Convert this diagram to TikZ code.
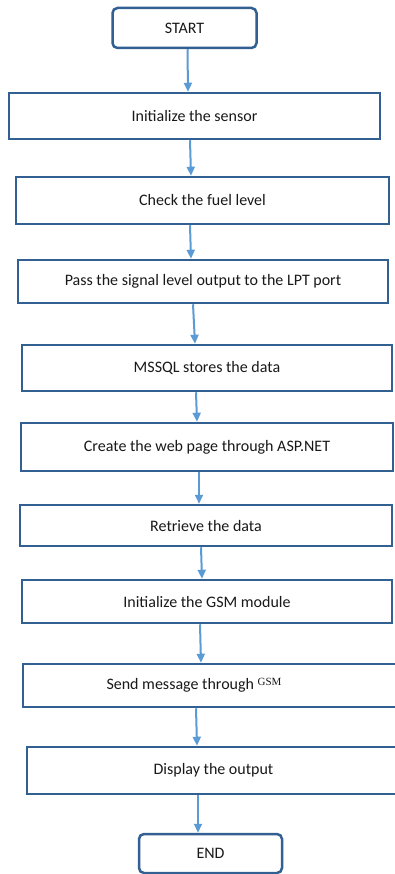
\documentclass[tikz,border=0pt]{standalone}
\usepackage{fontspec}
\setmainfont{Carlito}
\newfontfamily\gsmfont{Liberation Serif}
\usetikzlibrary{positioning, arrows.meta}
\definecolor{boxblue}{RGB}{50,96,146}
\definecolor{arrowblue}{RGB}{91,155,213}

\begin{document}
\begin{tikzpicture}[x=1pt, y=-1pt, every node/.style={font=\fontsize{16}{19}\selectfont, text=black!90}]
  \tikzset{block/.style={draw=boxblue, line width=2.5pt, fill=white, inner sep=0pt},
    terminal/.style={block, rounded corners=5pt},
    flow/.style={draw=arrowblue, line width=2pt, -{Triangle[length=9pt, width=8pt]}}}
  \useasboundingbox (0,0) rectangle (394,874);

  \node[terminal, minimum width=144pt, minimum height=40pt] (start) at (184.5,28) {START};
  \node[block, minimum width=371pt, minimum height=46pt] (init) at (194.5,116) {Initialize the sensor};
  \node[block, minimum width=373pt, minimum height=47pt] (check) at (202.5,200.5) {Check the fuel level};
  \node[block, minimum width=370pt, minimum height=43pt] (pass) at (203,281.5) {Pass the signal level output to the LPT port};
  \node[block, minimum width=370pt, minimum height=46pt] (store) at (207,368) {MSSQL stores the data};
  \node[block, minimum width=372pt, minimum height=48pt] (web) at (207,447) {Create the web page through ASP.NET};
  \node[block, minimum width=372pt, minimum height=41pt] (fetch) at (206,525.5) {Retrieve the data};
  \node[block, minimum width=370pt, minimum height=43pt] (gsm) at (207,601.5) {Initialize the GSM module};
  \node[block, minimum width=377pt, minimum height=43pt] (send) at (211.5,685.5)
    {\hspace*{-35pt}Send message through \raisebox{4pt}{\gsmfont\fontsize{11}{12}\selectfont GSM}};
  \node[block, minimum width=373pt, minimum height=47pt] (show) at (213.5,770.5) {Display the output};
  \node[terminal, minimum width=143pt, minimum height=39pt] (end) at (210.5,853.5) {END};

  \draw[flow] ([xshift=3pt]start.south) -- ([xshift=-6.5pt]init.north);
  \draw[flow] ([xshift=-4.5pt]init.south) -- ([xshift=-11.5pt]check.north);
  \draw[flow] ([xshift=-12.5pt]check.south) -- ([xshift=-12pt]pass.north);
  \draw[flow] ([xshift=-10pt]pass.south) -- ([xshift=-12pt]store.north);
  \draw[flow] ([xshift=-11pt]store.south) -- ([xshift=-10pt]web.north);
  \draw[flow] ([xshift=-8pt]web.south) -- ([xshift=-7pt]fetch.north);
  \draw[flow] ([xshift=-5pt]fetch.south) -- ([xshift=-5pt]gsm.north);
  \draw[flow] ([xshift=-7pt]gsm.south) -- ([xshift=-10.5pt]send.north);
  \draw[flow] ([xshift=-15.5pt]send.south) -- ([xshift=-16.5pt]show.north);
  \draw[flow] ([xshift=-15.5pt]show.south) -- ([xshift=-12.5pt]end.north);
\end{tikzpicture}
\end{document}
